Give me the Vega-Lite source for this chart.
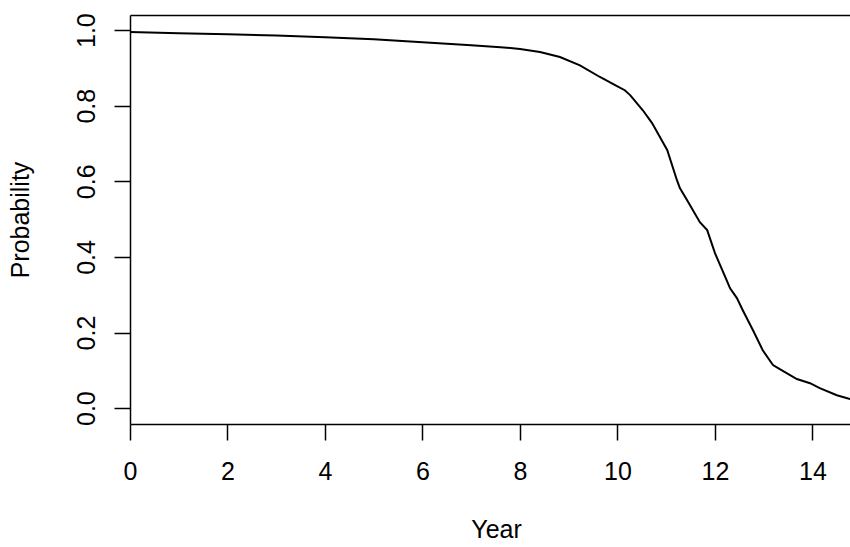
{
  "$schema": "https://vega.github.io/schema/vega-lite/v6.json",
  "width": 720,
  "height": 409,
  "autosize": {"type": "none"},
  "padding": {"left": 130, "top": 15, "right": 0, "bottom": 123},
  "background": "white",
  "config": {
    "view": {"stroke": null},
    "font": "Liberation Sans",
    "axis": {
      "grid": false,
      "domainColor": "black",
      "tickColor": "black",
      "labelColor": "black",
      "titleColor": "black",
      "labelFont": "Liberation Sans",
      "titleFont": "Liberation Sans",
      "labelFontSize": 25,
      "titleFontSize": 25,
      "titleFontWeight": "normal",
      "tickSize": 16,
      "tickWidth": 1.5,
      "domainWidth": 1.5
    }
  },
  "data": {
    "values": [
      {"year": 0, "prob": 0.995},
      {"year": 1, "prob": 0.992},
      {"year": 2, "prob": 0.989},
      {"year": 3, "prob": 0.986},
      {"year": 4, "prob": 0.981},
      {"year": 5, "prob": 0.976},
      {"year": 6, "prob": 0.968},
      {"year": 7, "prob": 0.960},
      {"year": 7.6, "prob": 0.955},
      {"year": 8, "prob": 0.950},
      {"year": 8.41, "prob": 0.942},
      {"year": 8.82, "prob": 0.929},
      {"year": 9.23, "prob": 0.907},
      {"year": 9.64, "prob": 0.876},
      {"year": 9.99, "prob": 0.852},
      {"year": 10.15, "prob": 0.841},
      {"year": 10.26, "prob": 0.828},
      {"year": 10.52, "prob": 0.788},
      {"year": 10.71, "prob": 0.754},
      {"year": 10.87, "prob": 0.717},
      {"year": 11.02, "prob": 0.683},
      {"year": 11.22, "prob": 0.603},
      {"year": 11.28, "prob": 0.582},
      {"year": 11.45, "prob": 0.545},
      {"year": 11.69, "prob": 0.492},
      {"year": 11.84, "prob": 0.471},
      {"year": 12.0, "prob": 0.410},
      {"year": 12.21, "prob": 0.347},
      {"year": 12.31, "prob": 0.317},
      {"year": 12.45, "prob": 0.291},
      {"year": 12.57, "prob": 0.259},
      {"year": 12.78, "prob": 0.206},
      {"year": 12.98, "prob": 0.153},
      {"year": 13.19, "prob": 0.114},
      {"year": 13.33, "prob": 0.103},
      {"year": 13.68, "prob": 0.077},
      {"year": 13.95, "prob": 0.066},
      {"year": 14.15, "prob": 0.053},
      {"year": 14.5, "prob": 0.034},
      {"year": 14.77, "prob": 0.024},
      {"year": 15.0, "prob": 0.015}
    ]
  },
  "layer": [
    {
      "mark": {"type": "line", "color": "black", "strokeWidth": 2, "clip": true},
      "encoding": {
        "x": {
          "field": "year",
          "type": "quantitative",
          "scale": {"domain": [0, 14.77], "nice": false, "zero": false},
          "axis": {
            "orient": "bottom",
            "values": [0, 2, 4, 6, 8, 10, 12, 14],
            "labelBaseline": "alphabetic",
            "labelPadding": 39,
            "labelFlush": false,
            "labelOverlap": false,
            "title": "Year",
            "titleX": 366,
            "titleY": 113,
            "titleAlign": "center",
            "titleBaseline": "alphabetic"
          }
        },
        "y": {
          "field": "prob",
          "type": "quantitative",
          "scale": {"domain": [-0.042, 1.04], "nice": false, "zero": false},
          "axis": {
            "values": [0, 0.2, 0.4, 0.6, 0.8, 1.0],
            "format": ".1f",
            "labelAngle": -90,
            "labelAlign": "center",
            "labelBaseline": "alphabetic",
            "labelPadding": 20,
            "labelFlush": false,
            "labelOverlap": false,
            "title": "Probability",
            "titleAngle": -90,
            "titleAlign": "center",
            "titleBaseline": "alphabetic",
            "titleX": -102,
            "titleY": 204.5
          }
        }
      }
    },
    {
      "mark": {"type": "line", "opacity": 0},
      "encoding": {
        "x": {
          "field": "year",
          "type": "quantitative",
          "axis": {"orient": "top", "labels": false, "ticks": false, "title": null, "domain": true}
        },
        "y": {"field": "prob", "type": "quantitative", "axis": null}
      }
    }
  ],
  "resolve": {"axis": {"x": "independent", "y": "independent"}}
}
